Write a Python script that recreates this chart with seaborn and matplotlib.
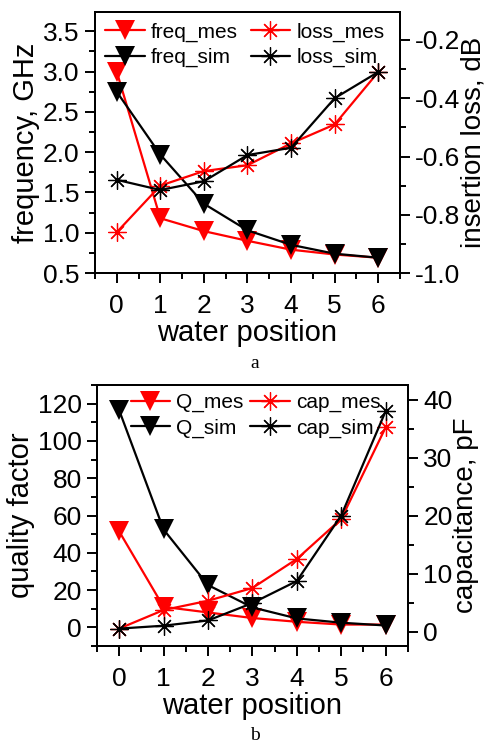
import numpy as np
import pandas as pd
import seaborn as sns
import matplotlib.pyplot as plt
from matplotlib.ticker import MultipleLocator

# ======================
# Data
# ======================
positions = [0, 1, 2, 3, 4, 5, 6]

freq_mes = [3.00, 1.18, 1.02, 0.90, 0.79, 0.73, 0.69]
freq_sim = [2.75, 1.97, 1.36, 1.03, 0.85, 0.74, 0.69]
loss_mes = [-0.86, -0.70, -0.65, -0.63, -0.555, -0.49, -0.31]
loss_sim = [-0.68, -0.715, -0.685, -0.595, -0.57, -0.40, -0.31]

q_mes = [51.5, 11.0, 8.0, 5.0, 3.0, 1.5, 1.5]
q_sim = [116.5, 52.5, 22.7, 10.7, 4.8, 2.5, 1.0]
cap_mes = [0.5, 3.7, 5.3, 7.5, 12.5, 19.4, 35.2]
cap_sim = [0.5, 1.0, 1.9, 4.9, 8.7, 20.0, 38.0]

RED = "#ff0000"
BLACK = "#000000"
STAR = (8, 2, 0)

# ======================
# Style
# ======================
sns.set_style("ticks")
plt.rcParams["font.family"] = ["Liberation Sans", "DejaVu Sans"]
plt.rcParams["axes.linewidth"] = 1.4
plt.rcParams["axes.unicode_minus"] = False
for key in ["text.color", "axes.labelcolor", "xtick.color", "ytick.color",
            "axes.edgecolor"]:
    plt.rcParams[key] = "black"

fig = plt.figure(figsize=(4.92, 7.47), dpi=100)


def style_axes(ax, twin, xlabel, ylabel, y2label, ylim, y2lim,
               ymaj, ymin, y2maj, y2min, yfmt, y2fmt):
    ax.set_xlim(-0.5, 6.5)
    ax.set_ylim(*ylim)
    twin.set_ylim(*y2lim)
    ax.xaxis.set_major_locator(MultipleLocator(1))
    ax.xaxis.set_minor_locator(MultipleLocator(0.5))
    ax.yaxis.set_major_locator(MultipleLocator(ymaj))
    ax.yaxis.set_minor_locator(MultipleLocator(ymin))
    twin.yaxis.set_major_locator(MultipleLocator(y2maj))
    twin.yaxis.set_minor_locator(MultipleLocator(y2min))
    ax.yaxis.set_major_formatter(yfmt)
    twin.yaxis.set_major_formatter(y2fmt)
    for a in (ax, twin):
        a.tick_params(which="major", direction="out", length=7, width=1.4,
                      labelsize=19, pad=4)
        a.tick_params(which="minor", direction="out", length=4, width=1.4)
        for sp in a.spines.values():
            sp.set_visible(True)
            sp.set_linewidth(1.4)
    ax.tick_params(axis="x", pad=8)
    ax.tick_params(axis="y", which="both", right=False, left=True)
    ax.tick_params(axis="x", which="both", top=False, bottom=True)
    twin.tick_params(axis="y", which="both", right=True, left=False)
    ax.set_xlabel(xlabel, fontsize=21, labelpad=1)
    ax.set_ylabel(ylabel, fontsize=21, labelpad=2)
    twin.set_ylabel(y2label, fontsize=20, labelpad=0)


def draw_panel(ax, twin, s1, s2, s3, s4, names, leg_x, leg_y, colsp):
    kw_tri = dict(marker="v", markersize=14, linewidth=1.6, markeredgewidth=0)
    kw_star = dict(marker=STAR, markersize=13, linewidth=1.6, markeredgewidth=0.9)
    sns.lineplot(x=positions, y=s1, color=RED, ax=ax, label=names[0], **kw_tri)
    sns.lineplot(x=positions, y=s2, color=BLACK, ax=ax, label=names[1], **kw_tri)
    sns.lineplot(x=positions, y=s3, color=RED, markeredgecolor=RED,
                 ax=twin, label=names[2], **kw_star)
    sns.lineplot(x=positions, y=s4, color=BLACK, markeredgecolor=BLACK,
                 ax=twin, label=names[3], **kw_star)
    h1, l1 = ax.get_legend_handles_labels()
    h2, l2 = twin.get_legend_handles_labels()
    ax.get_legend().remove()
    twin.get_legend().remove()
    # column-major fill: left column = triangles, right column = stars
    handles = [h1[0], h1[1], h2[0], h2[1]]
    labels = [l1[0], l1[1], l2[0], l2[1]]
    twin.legend(handles, labels, ncol=2, loc="upper left", frameon=False,
                fontsize=15, handlelength=1.9, handletextpad=0.3,
                columnspacing=colsp, labelspacing=0.3,
                borderaxespad=0.1, bbox_to_anchor=(leg_x, leg_y))


# ======================
# Panel a
# ======================
ax_a = fig.add_axes([0.193, 0.6345, 0.620, 0.3494])
tw_a = ax_a.twinx()
draw_panel(ax_a, tw_a, freq_mes, freq_sim, loss_mes, loss_sim,
           ["freq_mes", "freq_sim", "loss_mes", "loss_sim"], 0.0, 1.0, 0.6)
style_axes(ax_a, tw_a, "water position", "frequency, GHz", "insertion loss, dB",
           (0.5, 3.74), (-1.0, -0.104), 0.5, 0.25, 0.2, 0.1,
           "{x:.1f}", "{x:.1f}")
fig.text(0.518, 0.513, "a", family="Liberation Serif", fontsize=14,
         ha="center", va="center")

# ======================
# Panel b
# ======================
ax_b = fig.add_axes([0.197, 0.1352, 0.632, 0.3494])
tw_b = ax_b.twinx()
draw_panel(ax_b, tw_b, q_mes, q_sim, cap_mes, cap_sim,
           ["Q_mes", "Q_sim", "cap_mes", "cap_sim"], 0.075, 1.01, 0.3)
style_axes(ax_b, tw_b, "water position", "quality factor", "capacitance, pF",
           (-10, 130), (-2.5, 42.5), 20, 10, 10, 5,
           "{x:.0f}", "{x:.0f}")
fig.text(0.518, 0.016, "b", family="Liberation Serif", fontsize=14,
         ha="center", va="center")

plt.savefig("out.png", dpi=100)
plt.close()
